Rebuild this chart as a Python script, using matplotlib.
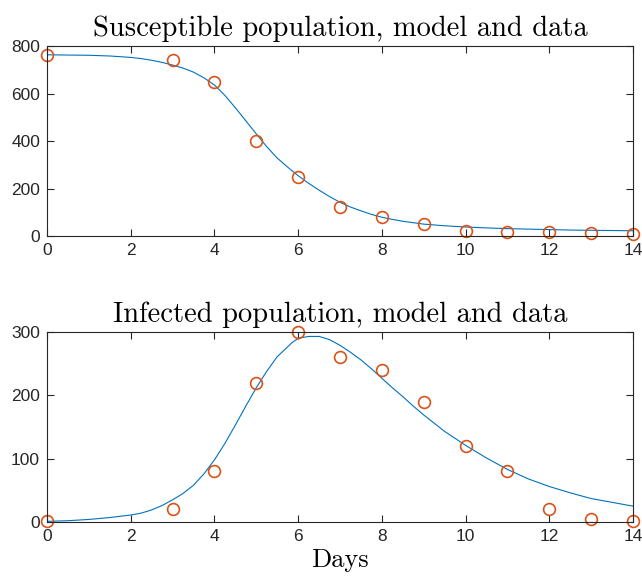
import matplotlib
matplotlib.use("Agg")
import matplotlib.pyplot as plt

# observed counts (boarding-school flu outbreak)
data_days = [0, 3, 4, 5, 6, 7, 8, 9, 10, 11, 12, 13, 14]
data_S = [763, 740, 650, 400, 250, 120, 80, 50, 20, 18, 15, 13, 10]
data_I = [1, 20, 80, 220, 300, 260, 240, 190, 120, 80, 20, 5, 2]

# fitted model output
model_t = [0, 0.5, 1, 1.5, 2, 2.25, 2.5, 2.75, 3, 3.25, 3.5, 3.75, 4, 4.25, 4.5, 4.75,
           5, 5.25, 5.5, 5.85, 6, 6.25, 6.5, 6.75, 7, 7.25, 7.5, 7.75, 8, 8.25, 8.5, 8.75,
           9, 9.5, 10, 10.5, 11, 11.5, 12, 12.5, 13, 13.5, 14]
model_S = [763, 762, 761, 758, 752, 747, 740, 731, 720, 707, 690, 666, 636, 592, 540, 485,
           430, 376, 328, 275, 254, 222, 193, 166, 142, 122, 106, 91, 79, 70, 62, 56,
           50, 43, 38, 34, 31, 29, 27, 25, 24, 23, 22]
model_I = [1, 2, 4, 7, 11, 14, 19, 26, 35, 45, 58, 76, 98, 124, 153, 183,
           212, 238, 261, 283, 290, 293, 293, 288, 279, 268, 256, 242, 227, 212, 198, 183,
           169, 143, 121, 101, 83, 68, 56, 46, 37, 31, 25]

LINE_C = (0.0, 0.447, 0.741)
MARK_C = (0.85, 0.325, 0.098)
AX_C = (0.15, 0.15, 0.15)

plt.rcParams["font.family"] = "Liberation Sans"
plt.rcParams["axes.unicode_minus"] = False

fig = plt.figure(figsize=(6.42, 5.84), dpi=100)
ax1 = fig.add_axes([0.0732, 0.5959, 0.9128, 0.3253])
ax2 = fig.add_axes([0.0732, 0.1062, 0.9128, 0.3253])


def style(ax, yticks):
    ax.set_xlim(0, 14)
    ax.set_xticks(range(0, 15, 2))
    ax.set_ylim(yticks[0], yticks[-1])
    ax.set_yticks(yticks)
    ax.tick_params(direction="in", length=5, width=0.8, top=True, right=True,
                   labelsize=12.5, colors=AX_C, labelcolor=AX_C, pad=5)
    for sp in ax.spines.values():
        sp.set_color(AX_C)
        sp.set_linewidth(0.8)


ax1.plot(model_t, model_S, color=LINE_C, lw=0.8)
ax1.plot(data_days, data_S, "o", mfc="none", mec=MARK_C, ms=8.5, mew=1.2, clip_on=False)
style(ax1, [0, 200, 400, 600, 800])
ax1.set_title("Susceptible population, model and data", fontname="cmr10", fontsize=20.5, pad=7)

ax2.plot(model_t, model_I, color=LINE_C, lw=0.8)
ax2.plot(data_days, data_I, "o", mfc="none", mec=MARK_C, ms=8.5, mew=1.2, clip_on=False)
style(ax2, [0, 100, 200, 300])
ax2.set_title("Infected population, model and data", fontname="cmr10", fontsize=20.5, pad=7)
ax2.set_xlabel("Days", fontname="cmr10", fontsize=19, labelpad=3)

fig.savefig("out.png", dpi=100)
